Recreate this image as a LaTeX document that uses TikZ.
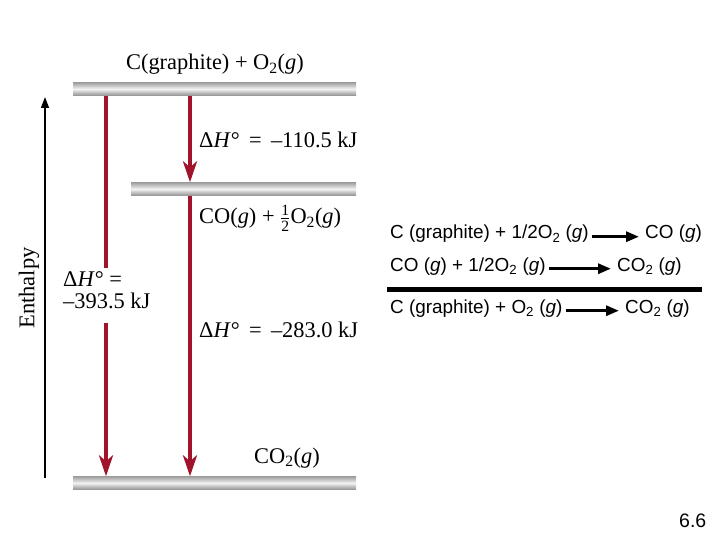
\documentclass[tikz,border=0pt]{standalone}
\usepackage{fontspec}
\usepackage{amsmath}
\setmainfont{Liberation Serif}
\newfontfamily\arialf{Liberation Sans}
\usetikzlibrary{arrows.meta}
\definecolor{arrred}{HTML}{A0132B}
\newcommand\sub[1]{\textsubscript{#1}}
\newcommand\half{$\tfrac{\text{1}}{\text{2}}$}
\begin{document}
\begin{tikzpicture}[x=1pt,y=-1pt,
  lvl/.style={draw=none, minimum height=13pt, inner sep=0pt, top color=gray!75, bottom color=gray!85, middle color=gray!10},
  redarr/.style={draw=arrred, line width=4pt, -{Stealth[length=21pt,width=14pt,inset=6pt]}},
  redline/.style={draw=arrred, line width=4pt},
  tms/.style={font=\fontsize{22.4}{26}\selectfont, inner sep=0pt},
  eq/.style={font=\arialf\fontsize{18.9}{23}\selectfont, inner sep=0pt},
  blk/.style={line width=3pt, -{Triangle[length=13pt,width=10pt]}}
]
\useasboundingbox (0,0) rectangle (720,540);
% levels
\node[lvl, minimum width=283pt] (L1) at (214.5,89) {};
\node[lvl, minimum width=225pt] (L2) at (243.5,189) {};
\node[lvl, minimum width=283pt] (L3) at (214.5,483) {};
\coordinate (xa) at (106,0);
\coordinate (xb) at (190,0);
\coordinate (ga) at (106,268);
\coordinate (gb) at (106,323);
% red arrows
\draw[redline] (L1.south -| xa) -- (ga);
\draw[redarr] (gb) -- (L3.north -| xa);
\draw[redarr] (L1.south -| xb) -- (L2.north -| xb);
\draw[redarr] (L2.south -| xb) -- (L3.north -| xb);
% labels
\node[tms, anchor=base] (t1) at (215,70) {C(graphite) + O\sub{2}(\textit{g})};
\node[tms, anchor=base west] (t2) at (199,148) {Δ\textit{H}° \,=\, –110.5 kJ};
\node[tms, anchor=base west] (t3) at (199,224) {CO(\textit{g}) + \half O\sub{2}(\textit{g})};
\node[tms, anchor=base west] (t4) at (63,286) {Δ\textit{H}° =};
\node[tms, anchor=base west] (t5) at (63,308) {–393.5 kJ};
\node[tms, anchor=base west] (t6) at (199,337) {Δ\textit{H}° \,=\, –283.0 kJ};
\node[tms, anchor=base west] (t7) at (254,463) {CO\sub{2}(\textit{g})};
% enthalpy axis
\coordinate (ax0) at (45,478);
\coordinate (ax1) at (45,97);
\draw[line width=1.5pt, -{Triangle[length=11pt,width=8pt]}] (ax0) -- (ax1);
\node[tms, font=\fontsize{22.5}{26}\selectfont, rotate=90] (ent) at (29,288) {Enthalpy};
% equations
\node[eq, anchor=base west] (e1l) at (390,239) {C (graphite) + 1/2O\sub{2} (\textit{g})};
\node[eq, anchor=base west] (e1r) at (645,239) {CO (\textit{g})};
\node[eq, anchor=base west] (e2l) at (390,271) {CO (\textit{g}) + 1/2O\sub{2} (\textit{g})};
\node[eq, anchor=base west] (e2r) at (617,271) {CO\sub{2} (\textit{g})};
\node[eq, anchor=base west] (e3l) at (390,313) {C (graphite) + O\sub{2} (\textit{g})};
\node[eq, anchor=base west] (e3r) at (625,313) {CO\sub{2} (\textit{g})};
\draw[blk, shorten <=3pt, shorten >=6pt] (e1l.mid east) -- (e1r.mid west);
\draw[blk, shorten <=3pt, shorten >=6pt] (e2l.mid east) -- (e2r.mid west);
\draw[blk, shorten <=3pt, shorten >=6pt] (e3l.mid east) -- (e3r.mid west);
\coordinate (r0) at (387,289.5);
\coordinate (r1) at (702,289.5);
\draw[line width=4.5pt] (r0) -- (r1);
\node[eq, font=\arialf\fontsize{19.5}{22}\selectfont, anchor=base west] (pg) at (679,527) {6.6};
\end{tikzpicture}
\end{document}
